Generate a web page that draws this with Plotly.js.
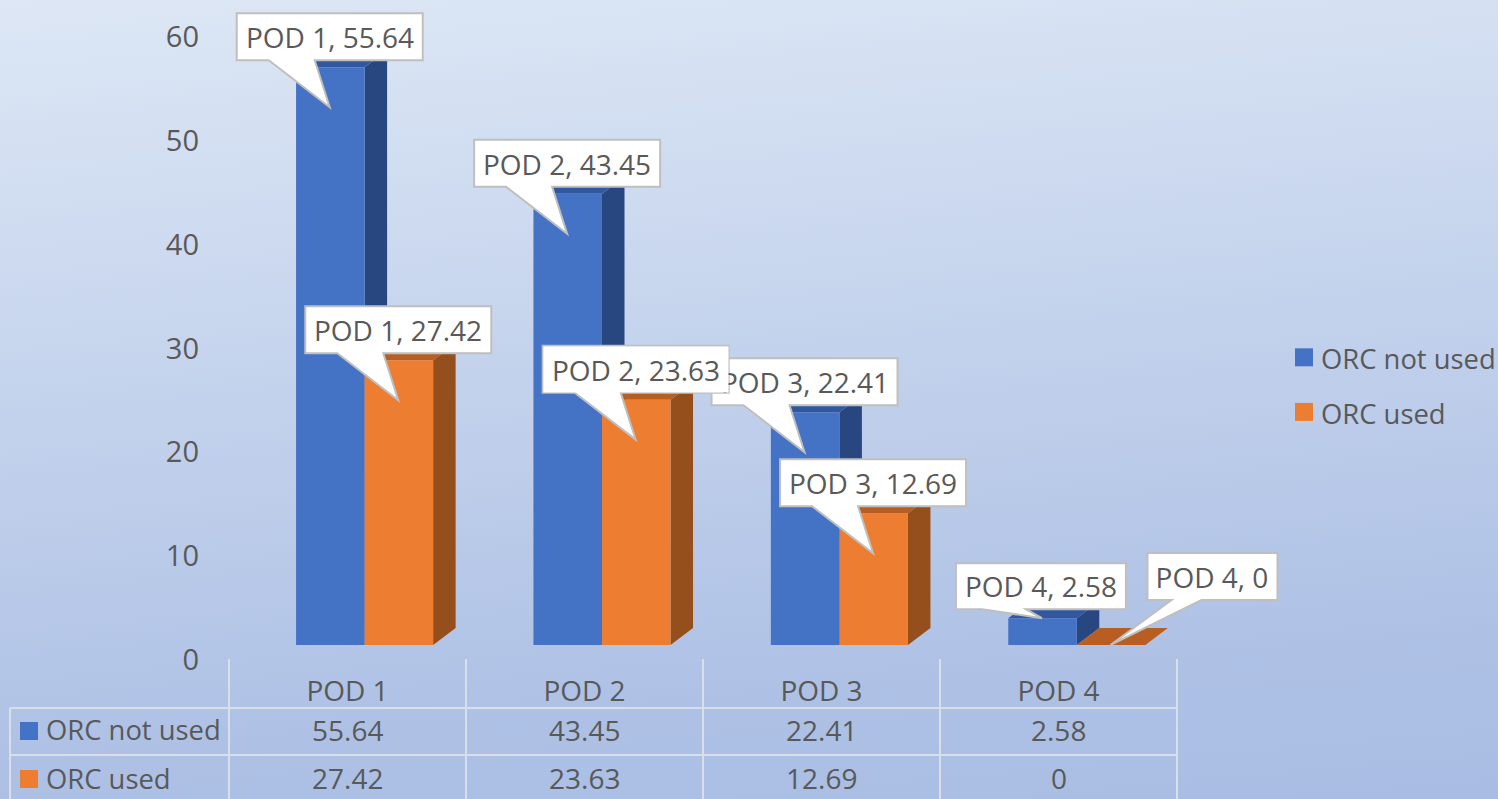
<!DOCTYPE html>
<html>
<head>
<meta charset="utf-8">
<script src="https://cdn.plot.ly/plotly-3.0.1.min.js"></script>
<style>
html,body{margin:0;padding:0;width:1498px;height:799px;overflow:hidden;
background:linear-gradient(175deg,#dde7f5 0%,#aec1e5 82%,#a9bce3 100%);}
#chart{width:1498px;height:799px;}
</style>
</head>
<body>
<div id="chart"></div>
<script>
const categories = ['POD 1','POD 2','POD 3','POD 4'];
const seriesNames = ['ORC not used','ORC used'];
const orcNotUsed = [55.64,43.45,22.41,2.58];
const orcUsed = [27.42,23.63,12.69,0];
const yTicks = [0,10,20,30,40,50,60];

const colors = {
  front:['#4472c4','#ed7d31'], side:['#284780','#954f1c'], top:['#31589f','#b85e22'],
  text:'#595959', grid:'#d9dfe8', callout:'#bfbfbf'
};
const FONT='"Open Sans", sans-serif', FS=28, FS_NAME=27.4;
const W=1498,H=799,L=229,R=1290,B=660;
const xScale=237.4, tableScale=237, yScale=10.383;
const baseY=645, barW=0.2887;
const depthX=22.5/xScale, depthY=17/yScale;
const px=x=>(x-L)/(R-L), py=y=>(B-y)/B;

const series=[orcNotUsed,orcUsed];
const shapes=[], annotations=[];

// 3D side and top faces, below the bars
series.forEach((vals,s)=>{
  vals.forEach((v,i)=>{
    const x0=i+(s-1)*barW, x1=x0+barW;
    shapes.push({type:'path',layer:'below',xref:'x',yref:'y',line:{width:0},fillcolor:colors.side[s],
      path:`M ${x1} 0 L ${x1+depthX} ${depthY} L ${x1+depthX} ${v+depthY} L ${x1} ${v} Z`});
    shapes.push({type:'path',layer:'below',xref:'x',yref:'y',line:{width:0},fillcolor:colors.top[s],
      path:`M ${x0} ${v} L ${x1} ${v} L ${x1+depthX} ${v+depthY} L ${x0+depthX} ${v+depthY} Z`});
  });
});

// callouts: box + wedge outline, offsets in pixels relative to the bar-top anchor
function calloutGeom(s,i){
  if(s===0&&i===3) return {l:-86,r:84,b:9,t:55,w0:-60,w1:-16,tipY:0};
  if(s===1&&i===3) return {l:37,r:167,b:45,t:92,w0:61,w1:91,tipY:0};
  return {l:-93,r:93,b:7,t:54,w0:-61,w1:-15,tipY:-40};
}
series.forEach((vals,s)=>{
  vals.forEach((v,i)=>{
    const g=calloutGeom(s,i), ax=i+(s-0.5)*barW;
    shapes.push({type:'path',layer:'above',xref:'x',yref:'y',xsizemode:'pixel',ysizemode:'pixel',
      xanchor:ax,yanchor:v,fillcolor:'#ffffff',line:{color:colors.callout,width:2},
      path:`M ${g.l-0.6} ${g.b} L ${g.w0-0.6} ${g.b} L -0.6 ${g.tipY} L ${g.w1-0.6} ${g.b} L ${g.r-0.6} ${g.b} L ${g.r-0.6} ${g.t} L ${g.l-0.6} ${g.t} Z`});
    const covering=(s===1&&i===1);
    annotations.push({xref:'x',yref:'y',x:ax,y:v,showarrow:false,xanchor:'center',yanchor:'middle',
      xshift:(g.l+g.r)/2-0.6,yshift:(g.b+g.t)/2,text:`${categories[i]}, ${v}`,
      font:{family:FONT,size:FS,color:colors.text},
      width:(g.r-g.l)-2,height:(g.t-g.b)-2,borderpad:0,
      bgcolor:covering?'#ffffff':'rgba(0,0,0,0)'});
  });
});

// data table grid
const gridLine=(x0,y0,x1,y1)=>({type:'line',layer:'above',xref:'paper',yref:'paper',
  x0:px(x0),x1:px(x1),y0:py(y0),y1:py(y1),line:{color:colors.grid,width:2}});
[229,466,703,940,1177].forEach(x=>shapes.push(gridLine(x,659,x,799)));
shapes.push(gridLine(10,708,10,799));
shapes.push(gridLine(10,708,1177,708));
shapes.push(gridLine(10,755,1177,755));

const rowY=[731,779], textY=[730,778];
seriesNames.forEach((name,s)=>{
  shapes.push({type:'rect',layer:'above',xref:'paper',yref:'paper',line:{width:0},fillcolor:colors.front[s],
    x0:px(20),x1:px(38),y0:py(rowY[s]-9),y1:py(rowY[s]+9)});
  annotations.push({xref:'paper',yref:'paper',x:px(43.5),y:py(textY[s]),showarrow:false,xanchor:'left',yanchor:'middle',
    text:name,font:{family:FONT,size:FS_NAME,color:colors.text}});
  series[s].forEach((v,i)=>{
    annotations.push({xref:'x2',yref:'paper',x:i,y:py(textY[s]),showarrow:false,xanchor:'center',yanchor:'middle',
      text:String(v),font:{family:FONT,size:FS,color:colors.text}});
  });
});

const traces=[
  {type:'bar',name:seriesNames[0],x:categories,y:orcNotUsed,xaxis:'x',yaxis:'y',legendgroup:'a',
   marker:{color:colors.front[0],line:{width:0}},hoverinfo:'skip'},
  {type:'bar',name:seriesNames[1],x:categories,y:orcUsed,xaxis:'x',yaxis:'y',legendgroup:'b',
   marker:{color:colors.front[1],line:{width:0}},hoverinfo:'skip'},
  {type:'scatter',mode:'markers',x:categories,y:orcNotUsed,xaxis:'x2',yaxis:'y2',showlegend:false,
   marker:{opacity:0},hoverinfo:'skip'}
];

const layout={
  width:W,height:H,
  paper_bgcolor:'rgba(0,0,0,0)',plot_bgcolor:'rgba(0,0,0,0)',
  margin:{l:L,r:W-R,t:0,b:H-B,pad:0,autoexpand:false},
  barmode:'group',bargap:1-2*barW,bargroupgap:0,
  xaxis:{type:'category',categoryorder:'array',categoryarray:categories,visible:false,
    range:[-(364.6-L)/xScale,-(364.6-L)/xScale+(R-L)/xScale],fixedrange:true},
  yaxis:{visible:false,domain:[(B-baseY)/B,1],range:[0,baseY/yScale],fixedrange:true},
  xaxis2:{type:'category',categoryorder:'array',categoryarray:categories,anchor:'y2',side:'bottom',
    range:[-0.5,-0.5+(R-L)/tableScale],showgrid:false,zeroline:false,showline:false,ticks:'',
    ticklabelstandoff:12,tickfont:{family:FONT,size:FS,color:colors.text},fixedrange:true},
  yaxis2:{anchor:'x2',side:'left',range:[0,B/yScale],tickmode:'array',tickvals:yTicks,
    showgrid:false,zeroline:false,showline:false,ticks:'',ticklabelstandoff:29,
    tickfont:{family:FONT,size:29,color:colors.text},fixedrange:true},
  legend:{xref:'container',yref:'container',x:1281/W,y:1-(334/H),xanchor:'left',yanchor:'top',
    bgcolor:'rgba(0,0,0,0)',itemwidth:30,tracegroupgap:16,traceorder:'grouped',
    font:{family:FONT,size:FS_NAME,color:colors.text}},
  shapes,annotations,showlegend:true
};
Plotly.newPlot('chart',traces,layout,{displayModeBar:false,staticPlot:true}).then(gd=>{
  gd.querySelectorAll('.legend .legendpoints path').forEach(p=>p.setAttribute('d','M12,8H-6V-10H12Z'));
});
</script>
</body>
</html>
